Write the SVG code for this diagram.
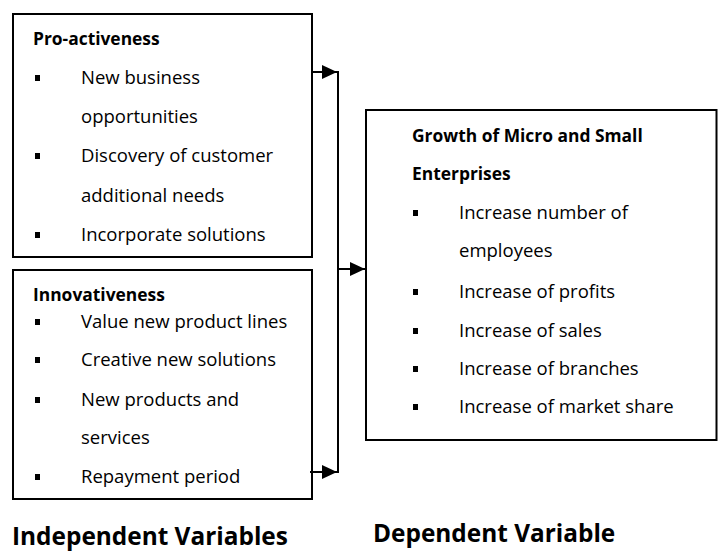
<svg xmlns="http://www.w3.org/2000/svg" width="721" height="553" viewBox="0 0 721 553">
<style>
.box{fill:#fff;stroke:#000;stroke-width:2}
.t{font-family:"Open Sans","Liberation Sans",sans-serif;font-size:18.5px;fill:#000}
.h{font-family:"Open Sans","Liberation Sans",sans-serif;font-size:17.4px;font-weight:bold;fill:#000}
.big{font-family:"Open Sans","Liberation Sans",sans-serif;font-size:24.4px;font-weight:bold;fill:#000}
.b{fill:#000}
.c{fill:none;stroke:#000;stroke-width:2}
</style>
<defs>
<marker id="ah" markerUnits="userSpaceOnUse" markerWidth="15" markerHeight="14" refX="15" refY="7" orient="auto" overflow="visible">
<path d="M0,0 L15,7 L0,14 Z" fill="#000"/>
</marker>
</defs>
<rect width="721" height="553" fill="#fff"/>
<g id="proactiveness">
<rect class="box" x="13" y="14" width="299" height="243"/>
<text class="h" x="33" y="45">Pro-activeness</text>
<rect class="b" x="35" y="75" width="5" height="6"/>
<text class="t" x="81" y="84">New business</text>
<text class="t" x="81" y="123">opportunities</text>
<rect class="b" x="35" y="153" width="5" height="6"/>
<text class="t" x="81" y="162">Discovery of customer</text>
<text class="t" x="81" y="201.5">additional needs</text>
<rect class="b" x="35" y="232" width="5" height="6"/>
<text class="t" x="81" y="241">Incorporate solutions</text>
</g>
<g id="innovativeness">
<rect class="box" x="13" y="270" width="299" height="229"/>
<text class="h" x="33" y="300.5">Innovativeness</text>
<rect class="b" x="35" y="319" width="5" height="6"/>
<text class="t" x="81" y="328">Value new product lines</text>
<rect class="b" x="35" y="357" width="5" height="6"/>
<text class="t" x="81" y="366">Creative new solutions</text>
<rect class="b" x="35" y="397" width="5" height="6"/>
<text class="t" x="81" y="406">New products and</text>
<text class="t" x="81" y="443.5">services</text>
<rect class="b" x="35" y="474" width="5" height="6"/>
<text class="t" x="81" y="483">Repayment period</text>
</g>
<g id="growth">
<rect class="box" x="366" y="110" width="350.5" height="330"/>
<text class="h" x="412" y="142">Growth of Micro and Small</text>
<text class="h" x="412" y="180">Enterprises</text>
<rect class="b" x="413" y="210" width="5" height="6"/>
<text class="t" x="459" y="219">Increase number of</text>
<text class="t" x="459" y="257">employees</text>
<rect class="b" x="413" y="289" width="5" height="6"/>
<text class="t" x="459" y="298">Increase of profits</text>
<rect class="b" x="413" y="328" width="5" height="6"/>
<text class="t" x="459" y="337">Increase of sales</text>
<rect class="b" x="413" y="366" width="5" height="6"/>
<text class="t" x="459" y="375">Increase of branches</text>
<rect class="b" x="413" y="404" width="5" height="6"/>
<text class="t" x="459" y="413">Increase of market share</text>
</g>
<g id="connectors">
<line class="c" x1="312" y1="72" x2="337" y2="72" marker-end="url(#ah)"/>
<line class="c" x1="310" y1="472" x2="337" y2="472" marker-end="url(#ah)"/>
<line class="c" x1="338" y1="71" x2="338" y2="473"/>
<line class="c" x1="338" y1="269" x2="365" y2="269" marker-end="url(#ah)"/>
</g>
<g id="labels">
<text class="big" x="12" y="545">Independent Variables</text>
<text class="big" x="373" y="542">Dependent Variable</text>
</g>
</svg>
